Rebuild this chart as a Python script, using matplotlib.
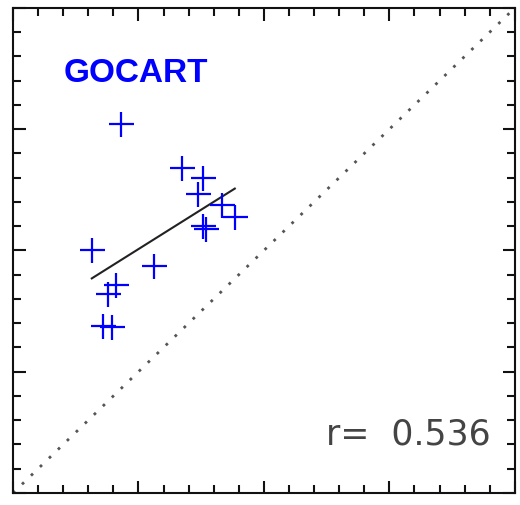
import matplotlib
matplotlib.use("Agg")
import matplotlib.pyplot as plt
import numpy as np
from matplotlib.ticker import MultipleLocator

# observed vs. modelled values (normalised to the 0-1 plot range)
obs = [0.215, 0.336, 0.378, 0.369, 0.417, 0.442, 0.379, 0.384,
       0.157, 0.280, 0.205, 0.190, 0.180, 0.197]
model = [0.760, 0.670, 0.649, 0.616, 0.594, 0.569, 0.551, 0.544,
         0.500, 0.468, 0.429, 0.410, 0.345, 0.343]
model_name = "GOCART"
r_value = 0.536

x = np.array(obs)
y = np.array(model)
slope, intercept = np.polyfit(x, y, 1)
xfit = np.array([x.min(), x.max()])

fig = plt.figure(figsize=(5.2, 5.05), dpi=100)
ax = fig.add_axes([0.025, 0.0238, 0.965, 0.9605])

# 1:1 line
ax.plot([0, 1], [0, 1], color="#555555", linewidth=2.0, dashes=(1, 3.5))
ax.plot(xfit, slope * xfit + intercept, color="#222222", linewidth=1.5)
ax.plot(x, y, linestyle="none", marker="+", markersize=18,
        markeredgewidth=1.6, color="#0000ff")

ax.text(0.10, 0.847, model_name, color="#0000ff", fontsize=24,
        family="Liberation Sans", fontweight="bold", transform=ax.transAxes)
ax.text(0.952, 0.1, f"r=  {r_value:.3f}", color="#444444", fontsize=25,
        family="DejaVu Sans", ha="right", transform=ax.transAxes)

ax.set_xlim(0, 1)
ax.set_ylim(0, 1)
for axis in (ax.xaxis, ax.yaxis):
    axis.set_major_locator(MultipleLocator(0.25))
    axis.set_minor_locator(MultipleLocator(0.05))
ax.tick_params(which="both", direction="in", top=True, right=True,
               labelbottom=False, labelleft=False, width=1.5, color="#111111")
ax.tick_params(which="major", length=9)
ax.tick_params(which="minor", length=6)
for spine in ax.spines.values():
    spine.set_linewidth(1.5)
    spine.set_color("#111111")

fig.savefig("out.png", dpi=100)
